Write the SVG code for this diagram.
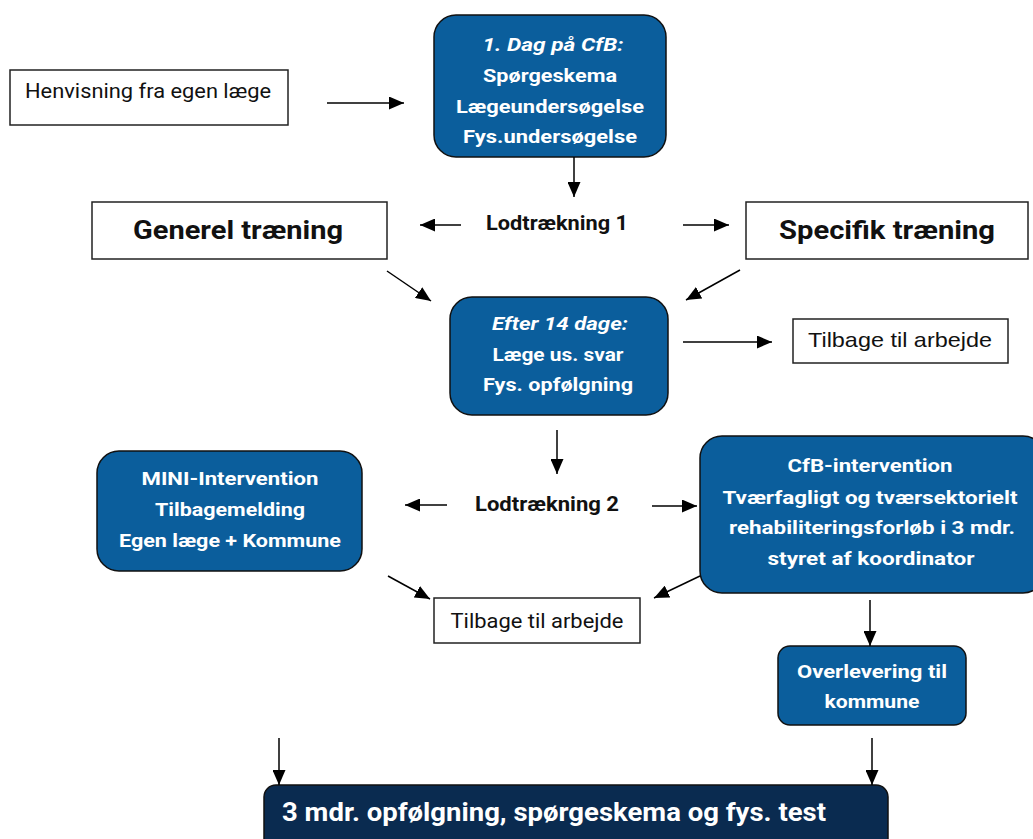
<svg xmlns="http://www.w3.org/2000/svg" width="1033" height="839" viewBox="0 0 1033 839">
<defs>
<marker id="ah" viewBox="0 0 15 13" refX="15" refY="6.5" markerWidth="15" markerHeight="13" markerUnits="userSpaceOnUse" orient="auto">
<path d="M0,0 L15,6.5 L0,13 z" fill="#000"/>
</marker>
<style>
.wb{fill:#fff;stroke:#222;stroke-width:1.5}
.bb{fill:#0b5e9c;stroke:#111;stroke-width:1.5}
.nb{fill:#0a2b50;stroke:#111;stroke-width:1.5}
.wt{font-family:Roboto,"Liberation Sans",sans-serif;font-weight:bold;fill:#fff;font-size:18.5px;text-anchor:middle}
.it{font-style:italic}
.kt{font-family:Roboto,"Liberation Sans",sans-serif;fill:#111;text-anchor:middle}
.c{stroke:#000;stroke-width:1.5;fill:none;marker-end:url(#ah)}
</style>
</defs>
<rect width="1033" height="839" fill="#fff"/>
<g id="henvisning">
<rect class="wb" x="10" y="70" width="278" height="55"/>
<text class="kt" x="148" y="98" font-size="21" textLength="246" lengthAdjust="spacingAndGlyphs">Henvisning fra egen læge</text>
</g>
<g id="dag1">
<rect class="bb" x="434" y="15" width="232" height="142" rx="22"/>
<text class="wt it" x="553" y="51" textLength="141" lengthAdjust="spacingAndGlyphs">1. Dag på CfB:</text>
<text class="wt" x="550" y="82" textLength="134" lengthAdjust="spacingAndGlyphs">Spørgeskema</text>
<text class="wt" x="550" y="113" textLength="188" lengthAdjust="spacingAndGlyphs">Lægeundersøgelse</text>
<text class="wt" x="550" y="143" textLength="174" lengthAdjust="spacingAndGlyphs">Fys.undersøgelse</text>
</g>
<g id="generel">
<rect class="wb" x="92" y="202" width="295" height="57"/>
<text class="kt" x="238" y="239" font-size="25" font-weight="bold" textLength="210" lengthAdjust="spacingAndGlyphs">Generel træning</text>
</g>
<g id="lod1">
<text class="kt" x="557" y="230" font-size="19.5" font-weight="bold" textLength="142" lengthAdjust="spacingAndGlyphs">Lodtrækning 1</text>
</g>
<g id="specifik">
<rect class="wb" x="746" y="202" width="282" height="57"/>
<text class="kt" x="887" y="239" font-size="25" font-weight="bold" textLength="216" lengthAdjust="spacingAndGlyphs">Specifik træning</text>
</g>
<g id="efter14">
<rect class="bb" x="450" y="297" width="218" height="118" rx="22"/>
<text class="wt it" x="560" y="330" textLength="136" lengthAdjust="spacingAndGlyphs">Efter 14 dage:</text>
<text class="wt" x="558" y="361" textLength="131" lengthAdjust="spacingAndGlyphs">Læge us. svar</text>
<text class="wt" x="558" y="391" textLength="150" lengthAdjust="spacingAndGlyphs">Fys. opfølgning</text>
</g>
<g id="tilbage1">
<rect class="wb" x="793" y="319" width="215" height="44"/>
<text x="900" y="347" font-family="'Liberation Sans',Arial,sans-serif" font-size="21" fill="#111" text-anchor="middle" textLength="184" lengthAdjust="spacingAndGlyphs">Tilbage til arbejde</text>
</g>
<g id="mini">
<rect class="bb" x="97" y="451" width="265" height="120" rx="22"/>
<text class="wt" x="230" y="485" textLength="177" lengthAdjust="spacingAndGlyphs">MINI-Intervention</text>
<text class="wt" x="230" y="516" textLength="150" lengthAdjust="spacingAndGlyphs">Tilbagemelding</text>
<text class="wt" x="230" y="547" textLength="222" lengthAdjust="spacingAndGlyphs">Egen læge + Kommune</text>
</g>
<g id="lod2">
<text class="kt" x="547" y="511" font-size="19.5" font-weight="bold" textLength="144" lengthAdjust="spacingAndGlyphs">Lodtrækning 2</text>
</g>
<g id="cfb">
<rect class="bb" x="700" y="436" width="345" height="157" rx="22"/>
<text class="wt" x="870" y="472" textLength="165" lengthAdjust="spacingAndGlyphs">CfB-intervention</text>
<text class="wt" x="870" y="504" textLength="295" lengthAdjust="spacingAndGlyphs">Tværfagligt og tværsektorielt</text>
<text class="wt" x="872" y="534" textLength="286" lengthAdjust="spacingAndGlyphs">rehabiliteringsforløb i 3 mdr.</text>
<text class="wt" x="871" y="565" textLength="207" lengthAdjust="spacingAndGlyphs">styret af koordinator</text>
</g>
<g id="tilbage2">
<rect class="wb" x="434" y="598" width="206" height="45"/>
<text class="kt" x="537" y="628" font-size="20" textLength="173" lengthAdjust="spacingAndGlyphs">Tilbage til arbejde</text>
</g>
<g id="overlevering">
<rect class="bb" x="778" y="646" width="188" height="79" rx="12"/>
<text class="wt" x="872" y="678" textLength="150" lengthAdjust="spacingAndGlyphs">Overlevering til</text>
<text class="wt" x="872" y="708" textLength="95" lengthAdjust="spacingAndGlyphs">kommune</text>
</g>
<g id="opfoelgning">
<rect class="nb" x="264" y="785" width="624" height="70" rx="12"/>
<text x="282" y="821" font-family="Roboto,'Liberation Sans',sans-serif" font-weight="bold" font-size="25" fill="#fff" textLength="544" lengthAdjust="spacingAndGlyphs">3 mdr. opfølgning,  spørgeskema og fys. test</text>
</g>
<g id="connectors">
<line class="c" x1="327" y1="103" x2="404" y2="103"/>
<line class="c" x1="574" y1="157" x2="574" y2="197"/>
<line class="c" x1="461" y1="225" x2="420" y2="225"/>
<line class="c" x1="683" y1="225" x2="729" y2="225"/>
<line class="c" x1="387" y1="271" x2="431" y2="301"/>
<line class="c" x1="740" y1="270" x2="686" y2="300"/>
<line class="c" x1="683" y1="342" x2="772" y2="342"/>
<line class="c" x1="557" y1="430" x2="557" y2="474"/>
<line class="c" x1="447" y1="505" x2="405" y2="505"/>
<line class="c" x1="652" y1="506" x2="697" y2="506"/>
<line class="c" x1="388" y1="576" x2="430" y2="599"/>
<line class="c" x1="700" y1="576" x2="654" y2="598"/>
<line class="c" x1="870" y1="600" x2="870" y2="646"/>
<line class="c" x1="279" y1="738" x2="279" y2="785"/>
<line class="c" x1="872" y1="738" x2="872" y2="785"/>
</g>
</svg>
